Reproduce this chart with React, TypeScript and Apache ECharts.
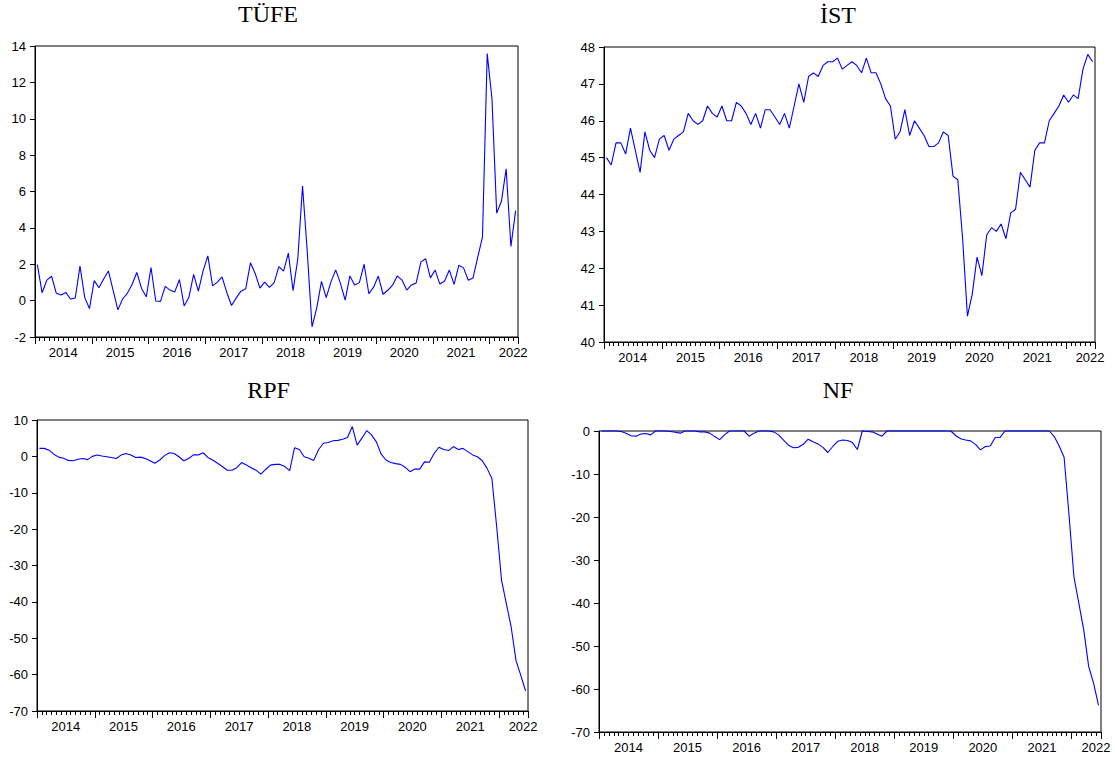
import React, { useEffect, useRef } from "react";
import * as echarts from "echarts";

// Monthly observations 2014M01 – 2022M06 (102 months)
const startYear = 2014;
const monthCount = 102;
const months: string[] = [];
for (let i = 0; i < monthCount; i++) {
  const y = startYear + Math.floor(i / 12);
  const m = (i % 12) + 1;
  months.push(`${y}M${m < 10 ? "0" + m : m}`);
}

const titles = ["TÜFE", "İST", "RPF", "NF"];

const tufe = [
  1.98, 0.43, 1.13, 1.34, 0.4, 0.31, 0.45, 0.09, 0.14, 1.9, 0.18, -0.44,
  1.1, 0.71, 1.19, 1.63, 0.56, -0.51, 0.09, 0.4, 0.89, 1.55, 0.67, 0.21,
  1.82, -0.02, -0.04, 0.78, 0.58, 0.47, 1.16, -0.29, 0.18, 1.44, 0.52, 1.64,
  2.46, 0.81, 1.02, 1.31, 0.45, -0.27, 0.15, 0.52, 0.65, 2.08, 1.49, 0.69,
  1.02, 0.73, 0.99, 1.87, 1.62, 2.61, 0.55, 2.3, 6.3, 2.67, -1.44, -0.4,
  1.06, 0.16, 1.03, 1.69, 0.95, 0.03, 1.36, 0.86, 0.99, 2.0, 0.38, 0.74,
  1.35, 0.35, 0.57, 0.85, 1.36, 1.13, 0.58, 0.86, 0.97, 2.13, 2.3, 1.25,
  1.68, 0.91, 1.08, 1.68, 0.89, 1.94, 1.8, 1.12, 1.25, 2.39, 3.51, 13.58,
  11.1, 4.81, 5.46, 7.25, 2.98, 4.95,
];

const ist = [
  45.0, 44.8, 45.4, 45.4, 45.1, 45.8, 45.2, 44.6, 45.7, 45.2, 45.0, 45.5,
  45.6, 45.2, 45.5, 45.6, 45.7, 46.2, 46.0, 45.9, 46.0, 46.4, 46.2, 46.1,
  46.4, 46.0, 46.0, 46.5, 46.4, 46.2, 45.9, 46.2, 45.8, 46.3, 46.3, 46.1,
  45.9, 46.2, 45.8, 46.4, 47.0, 46.5, 47.2, 47.3, 47.2, 47.5, 47.6, 47.6,
  47.7, 47.4, 47.5, 47.6, 47.5, 47.3, 47.7, 47.3, 47.3, 47.0, 46.6, 46.4,
  45.5, 45.7, 46.3, 45.6, 46.0, 45.8, 45.6, 45.3, 45.3, 45.4, 45.7, 45.6,
  44.5, 44.4, 42.8, 40.7, 41.3, 42.3, 41.8, 42.9, 43.1, 43.0, 43.2, 42.8,
  43.5, 43.6, 44.6, 44.4, 44.2, 45.2, 45.4, 45.4, 46.0, 46.2, 46.4, 46.7,
  46.5, 46.7, 46.6, 47.4, 47.8, 47.6,
];

const rpf = [
  2.2, 2.2, 1.7, 0.6, -0.2, -0.5, -1.1, -1.2, -0.8, -0.6, -0.9, 0.0,
  0.4, 0.1, -0.1, -0.3, -0.6, 0.4, 0.8, 0.4, -0.3, -0.2, -0.6, -1.2,
  -1.9, -1.0, 0.2, 1.0, 0.8, -0.1, -1.2, -0.6, 0.4, 0.4, 1.0, -0.3,
  -1.0, -1.9, -2.8, -3.8, -3.8, -3.1, -1.7, -2.4, -3.1, -3.8, -4.9, -3.6,
  -2.4, -2.2, -2.2, -2.8, -3.9, 2.4, 1.9, -0.1, -0.5, -1.1, 1.9, 3.6,
  3.8, 4.3, 4.4, 4.7, 5.2, 8.2, 3.1, 5.0, 7.1, 5.9, 4.0, 0.6,
  -1.0, -1.7, -2.0, -2.2, -3.0, -4.2, -3.5, -3.5, -1.5, -1.6, 0.8, 2.5,
  1.9, 1.6, 2.7, 1.9, 2.2, 1.3, 0.4, -0.1, -1.2, -3.3, -6.1, -19.4,
  -34.0, -40.5, -46.9, -56.1, -60.2, -64.5,
];

const nf = [
  0, 0, 0, 0, -0.1, -0.5, -1.1, -1.2, -0.7, -0.6, -0.9, 0,
  0, 0, -0.1, -0.3, -0.5, 0, 0, 0, -0.2, -0.2, -0.5, -1.3,
  -2.0, -0.9, 0, 0, 0, 0, -1.2, -0.5, 0, 0, 0, -0.2,
  -0.9, -2.1, -3.3, -3.9, -3.8, -3.1, -1.9, -2.5, -3.0, -3.8, -5.0, -3.6,
  -2.4, -2.1, -2.2, -2.7, -4.3, 0, -0.1, -0.2, -0.7, -1.2, 0, 0,
  0, 0, 0, 0, 0, 0, 0, 0, 0, 0, 0, 0,
  -1.1, -1.8, -2.1, -2.3, -3.1, -4.4, -3.6, -3.5, -1.5, -1.5, 0, 0,
  0, 0, 0, 0, 0, 0, 0, 0, -1.3, -3.5, -6.1, -19.5,
  -33.9, -40.1, -46.3, -54.8, -58.7, -63.8,
];

const seriesData = [tufe, ist, rpf, nf];

// y-axis scales: [min, max, interval]
const yScales = [
  [-2, 14, 2],
  [40, 48, 1],
  [-70, 10, 10],
  [-70, 0, 10],
];

const grids = [
  { left: 35, top: 46, width: 483, height: 291 },
  { left: 604, top: 47, width: 491, height: 295 },
  { left: 37, top: 420, width: 491, height: 291 },
  { left: 599, top: 431, width: 502, height: 301 },
];

const titlePos = [
  [268, 14],
  [838, 14.5],
  [268.5, 389.5],
  [838, 389.5],
];

const labelFont = "'Liberation Sans', Arial, sans-serif";
const titleFont = "'Liberation Serif', 'Times New Roman', serif";

export default function App() {
  const ref = useRef<HTMLDivElement>(null);

  useEffect(() => {
    if (!ref.current) return;
    const chart = echarts.init(ref.current, undefined, { renderer: "svg" });

    const xAxis: any[] = [];
    const yAxis: any[] = [];
    const series: any[] = [];

    grids.forEach((_, g) => {
      // main axis: line, monthly minor ticks, year labels
      xAxis.push({
        type: "category",
        gridIndex: g,
        position: "bottom",
        data: months,
        boundaryGap: true,
        axisLine: { show: true, onZero: false, lineStyle: { color: "#000", width: 1 } },
        axisTick: {
          show: true,
          interval: 0,
          length: 4,
          inside: false,
          lineStyle: { color: "#000", width: 1 },
        },
        axisLabel: {
          show: true,
          interval: (index: number) => index % 12 === 6 || index === 101,
          formatter: (v: string) => v.slice(0, 4),
          fontFamily: labelFont,
          fontSize: 13,
          color: "#000",
          margin: 9,
          padding: [0, 5, 0, 0],
        },
        splitLine: { show: false },
      });
      // overlay axis: year (major) ticks
      xAxis.push({
        type: "category",
        gridIndex: g,
        position: "bottom",
        data: months,
        boundaryGap: true,
        axisLine: { show: false, onZero: false },
        axisTick: {
          show: true,
          interval: (index: number) => index % 12 === 0,
          length: 7,
          inside: false,
          lineStyle: { color: "#000", width: 1 },
        },
        axisLabel: { show: false },
        splitLine: { show: false },
      });

      const [mn, mx, iv] = yScales[g];
      yAxis.push({
        type: "value",
        gridIndex: g,
        min: mn,
        max: mx,
        interval: iv,
        axisLine: { show: true, onZero: false, lineStyle: { color: "#000", width: 1 } },
        axisTick: {
          show: true,
          inside: false,
          length: 5,
          lineStyle: { color: "#000", width: 1 },
        },
        axisLabel: {
          fontFamily: labelFont,
          fontSize: 13,
          color: "#000",
          margin: 9,
        },
        splitLine: { show: false },
      });

      series.push({
        type: "line",
        xAxisIndex: g * 2,
        yAxisIndex: g,
        data: seriesData[g],
        showSymbol: false,
        symbol: "none",
        clip: false,
        lineStyle: { color: "#0000ff", width: 1.1 },
        itemStyle: { color: "#0000ff" },
      });
    });

    const graphic = titles.map((t, i) => ({
      type: "text",
      x: titlePos[i][0],
      y: titlePos[i][1],
      style: {
        text: t,
        font: `24px ${titleFont}`,
        fill: "#000",
        align: "center",
        verticalAlign: "middle",
        textAlign: "center",
        textVerticalAlign: "middle",
      },
    }));

    chart.setOption({
      animation: false,
      backgroundColor: "#fff",
      grid: grids.map((gr) => ({
        ...gr,
        show: true,
        borderColor: "#000",
        borderWidth: 1,
        backgroundColor: "transparent",
        containLabel: false,
      })),
      xAxis,
      yAxis,
      series,
      graphic,
    });

    return () => chart.dispose();
  }, []);

  return (
    <div
      ref={ref}
      style={{ position: "absolute", left: 0, top: 0, width: 1115, height: 762 }}
    />
  );
}
